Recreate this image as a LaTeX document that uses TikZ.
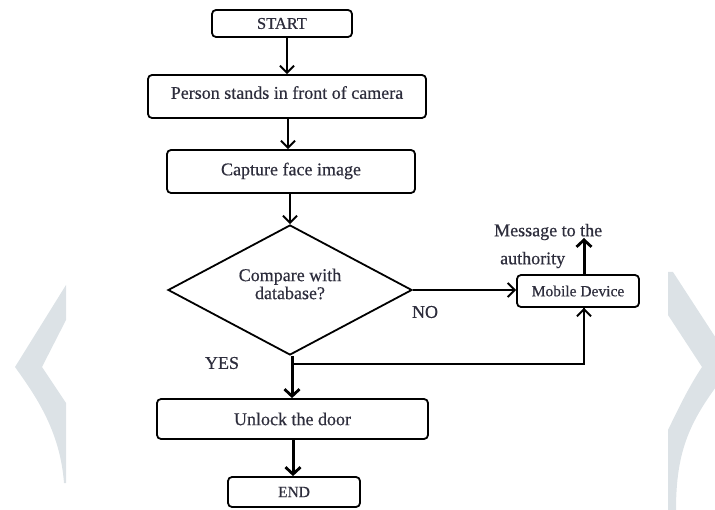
\documentclass[tikz,border=0pt]{standalone}
\usepackage{fontspec}
\setmainfont{Liberation Serif}[FakeBold=0.5]
\usetikzlibrary{shapes.geometric,arrows.meta}
\definecolor{wm}{RGB}{220,226,230}
\definecolor{txt}{RGB}{45,45,60}
\tikzset{
  box/.style={draw, line width=1.8pt, rounded corners=4pt, rectangle, inner sep=0pt, text=txt, font=\fontsize{18}{20}\selectfont},
  smallbox/.style={box, font=\fontsize{15.5}{17}\selectfont},
  lbl/.style={text=txt, font=\fontsize{18}{20}\selectfont, inner sep=0pt},
  arr/.style={line width=2pt, -{Straight Barb[length=7pt,width=14pt,line width=2pt]}},
  thickarr/.style={line width=3pt, -{Straight Barb[length=7pt,width=15pt,line width=2.8pt]}},
  conn/.style={line width=2pt},
}
\begin{document}
\begin{tikzpicture}[x=1pt,y=-1pt]
\useasboundingbox (0,0) rectangle (715,510);
\begin{scope}
\clip (0,0) rectangle (715,510);
% watermark chevrons
\fill[wm] (66,285) -- (15,367) .. controls (35,395) and (60,430) .. (64,483) -- (66,483) -- (66,403) -- (42,367) -- (66,320) -- cycle;
\fill[wm] (668,272) -- (673,272) -- (725,352) -- (725,375) .. controls (690,420) and (676,450) .. (676,510) -- (668,510) -- (668,430) .. controls (680,405) and (690,385) .. (702,367) -- (668,315) -- cycle;
\end{scope}

\node[box, font=\fontsize{16.5}{18}\selectfont, minimum width=140pt, minimum height=27pt] (start) at (282,23.5) {START};
\node[box, minimum width=278pt, minimum height=43pt] (person) at (287,96.5) {\raisebox{8pt}{Person stands in front of camera}};
\node[box, minimum width=248pt, minimum height=43pt] (capture) at (291,171.5) {\raisebox{5pt}{Capture face image}};
\node[draw, line width=1.8pt, diamond, aspect=1.88, minimum width=244pt, minimum height=130pt, inner sep=0pt] (dia) at (290,290) {};
\node[lbl, align=center, font=\fontsize{18}{18}\selectfont] (diatext) at (290,284) {Compare with\\database?};
\node[smallbox, minimum width=122pt, minimum height=32pt] (mobile) at (578,291) {Mobile Device};
\node[box, minimum width=271pt, minimum height=40pt] (unlock) at (292.5,419) {Unlock the door};
\node[smallbox, minimum width=132pt, minimum height=30pt] (end) at (294,492) {END};

\node[lbl] (no) at (425,312) {NO};
\node[lbl] (yes) at (222,363) {YES};
\node[lbl, anchor=west] (msg1) at (494,232) {Message to the};
\node[lbl, anchor=west] (msg2) at (500,260) {authority};

\coordinate (msgtip) at (584,238);
\coordinate (j) at (292,364);

\draw[arr] (person.north |- start.south) -- (person.north);
\draw[arr] (person.south -| 288,0) -- (capture.north -| 288,0);
\draw[arr] (dia.north |- capture.south) -- (dia.north);
\draw[arr] (dia.east) -- (dia.east -| mobile.west);
\draw[thickarr] (mobile.north -| msgtip) -- (msgtip);
\draw[thickarr] (dia.south -| j) -- (unlock.north -| j);
\draw[conn] (j) -| (mobile.south -| msgtip);
\draw[arr] (mobile.south -| msgtip) ++(0,57) -- (mobile.south -| msgtip);
\draw[thickarr] (unlock.south -| 293,0) -- (end.north -| 293,0);
\end{tikzpicture}
\end{document}
